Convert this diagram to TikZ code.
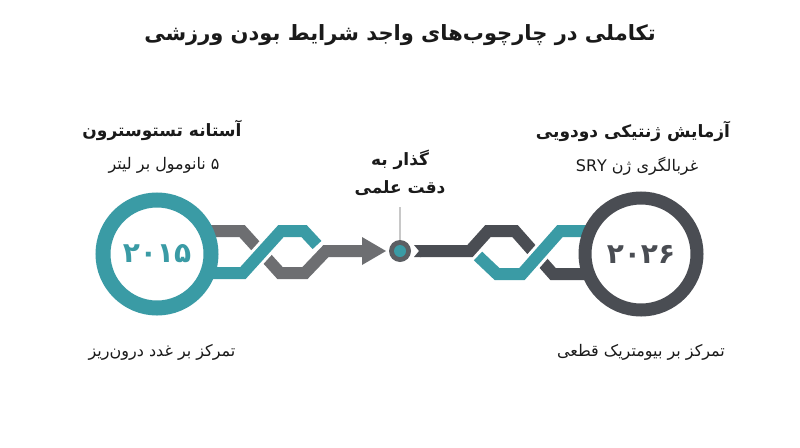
\documentclass[tikz,border=0pt]{standalone}
\usepackage{fontspec}
\TeXXeTstate=1
\newfontfamily\fa[Script=Arabic]{DejaVu Sans}
\definecolor{tealc}{HTML}{3A9BA5}
\definecolor{grayc}{HTML}{6D6E71}
\definecolor{darkc}{HTML}{4A4D53}
\definecolor{dotc}{HTML}{5B5E63}
\definecolor{leadc}{HTML}{C8C8C8}
\definecolor{txtc}{HTML}{1A1A1A}
\tikzset{
 lbl/.style={inner sep=0pt, text=txtc},
 titlefont/.style={lbl, font=\fa\bfseries\fontsize{21}{26}\selectfont},
 headfont/.style={lbl, font=\fa\bfseries\fontsize{17}{20}\selectfont},
 subfont/.style={lbl, font=\fa\fontsize{16}{19}\selectfont},
 strip/.style={line width=12pt, line cap=butt, line join=miter},
 gapline/.style={line width=18pt, white, line cap=butt, line join=miter},
 ring/.style={circle, fill=white, inner sep=0pt, minimum size=#1},
 leader/.style={leadc, line width=1.2pt},
}
\begin{document}
\begin{tikzpicture}[x=1pt,y=-1pt]
\useasboundingbox (0,0) rectangle (800,447);
\fill[white] (0,0) rectangle (800,447);

% title
\node[titlefont] (title) at (400,35) {\beginR تکاملی در چارچوب‌های واجد شرایط بودن ورزشی\endR};

% left chain
\draw[strip, grayc] (200,231) -- (242,231) -- (280,273) -- (305,273) -- (326,251) -- (364,251);
\fill[grayc] (362,237) -- (386,251) -- (362,265) -- cycle;
\draw[gapline] (200,273) -- (243,273) -- (281,231) -- (304,231) -- (317,245);
\draw[strip, tealc] (200,273) -- (243,273) -- (281,231) -- (304,231) -- (317,245);

% right chain
\draw[strip, darkc] (420,251) -- (470,251) -- (488,231) -- (515,231) -- (553,274) -- (600,274);
\fill[darkc] (414,245) -- (421,245) -- (421,257) -- (414,257) -- (419,251) -- cycle;
\draw[gapline] (478,256) -- (497,274) -- (522,274) -- (560,231) -- (600,231);
\draw[strip, tealc] (478,256) -- (497,274) -- (522,274) -- (560,231) -- (600,231);

% circles
\node[ring=108pt, draw=tealc, line width=15pt, text=tealc, font=\fa\bfseries\fontsize{28}{32}\selectfont] (y2015) at (157,254) {۲۰۱۵};
\node[ring=112pt, draw=darkc, line width=13pt, text=darkc, font=\fa\bfseries\fontsize{28}{32}\selectfont] (y2026) at (641,254) {۲۰۲۶};

% hub
\node[circle, fill=dotc, minimum size=22pt, inner sep=0pt] (hub) at (400,251) {};
\node[circle, fill=tealc, minimum size=12pt, inner sep=0pt] (hubin) at (hub.center) {};
\coordinate (leadtop) at (400,207);
\draw[leader] (hub.north) -- (leadtop);

% labels
\node[headfont] (h1) at (162,130) {\beginR آستانه تستوسترون\endR};
\node[subfont] (s1) at (164,165) {\beginR ۵ نانومول بر لیتر\endR};
\node[headfont] (m1) at (400,160) {\beginR گذار به\endR};
\node[headfont] (m2) at (400,188) {\beginR دقت علمی\endR};
\node[headfont] (h2) at (633,131) {\beginR آزمایش ژنتیکی دودویی\endR};
\node[subfont] (s2) at (637,166) {\beginR غربالگری ژن SRY\endR};
\node[subfont] (b1) at (162,352) {\beginR تمرکز بر غدد درون‌ریز\endR};
\node[subfont] (b2) at (641,352) {\beginR تمرکز بر بیومتریک قطعی\endR};
\end{tikzpicture}
\end{document}
